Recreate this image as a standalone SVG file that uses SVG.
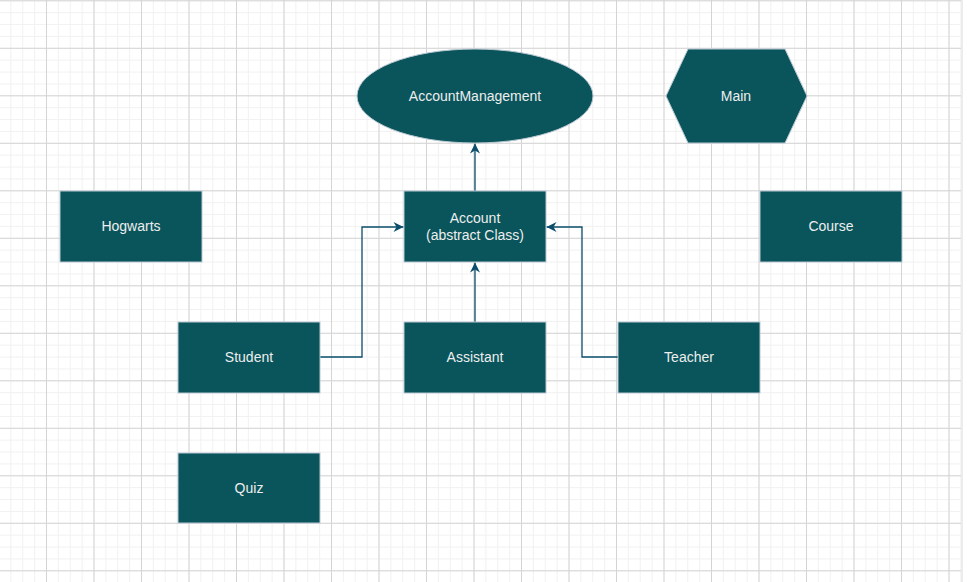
<svg xmlns="http://www.w3.org/2000/svg" width="967" height="582" viewBox="0 0 967 582">
<style>
.node{fill:#09555B;stroke:#BAC8D3;stroke-width:1}
.lbl{fill:#EEEEEE;font-family:"Liberation Sans",Arial,sans-serif;font-size:14px;text-anchor:middle}
.edge{fill:none;stroke:#0B4D6A;stroke-width:1.3}
</style>
<defs>
<pattern id="minor" patternUnits="userSpaceOnUse" x="10.375" y="0.3" width="11.875" height="11.875">
<path d="M0.5,0 V11.875 M0,0.5 H11.875" fill="none" stroke="#f1f1f1" stroke-width="1"/>
</pattern>
<pattern id="major" patternUnits="userSpaceOnUse" x="46" y="47.8" width="47.5" height="47.5">
<path d="M0.5,0 V47.5 M0,0.5 H47.5" fill="none" stroke="#d4d4d4" stroke-width="1"/>
</pattern>
<marker id="arr" viewBox="0 0 10 10" refX="10" refY="5" markerWidth="11" markerHeight="10" markerUnits="userSpaceOnUse" orient="auto">
<path d="M10,5 L0,0 L3,5 L0,10 Z" fill="#0B4D6A"/>
</marker>
</defs>
<rect width="967" height="582" fill="#ffffff"/>
<rect width="961" height="582" fill="url(#minor)"/>
<rect width="961" height="582" fill="url(#major)"/>
<rect x="961" y="0" width="2" height="582" fill="#ececec"/>
<g id="connectors">
<path class="edge" d="M475,191 V143.5" marker-end="url(#arr)"/>
<path class="edge" d="M475,322 V262.5" marker-end="url(#arr)"/>
<path class="edge" d="M320,357 H362 V227 H403.5" marker-end="url(#arr)"/>
<path class="edge" d="M618,357 H582 V227 H546.5" marker-end="url(#arr)"/>
</g>
<g id="accountmanagement">
<ellipse class="node" cx="475" cy="96" rx="118" ry="47"/>
<text class="lbl" x="475" y="101">AccountManagement</text>
</g>
<g id="main">
<polygon class="node" points="688,49 785,49 807,96 785,143 688,143 666,96"/>
<text class="lbl" x="736" y="101">Main</text>
</g>
<g id="hogwarts">
<rect class="node" x="60" y="191" width="142" height="71"/>
<text class="lbl" x="131" y="231">Hogwarts</text>
</g>
<g id="account">
<rect class="node" x="404" y="191" width="142" height="71"/>
<text class="lbl" x="475" y="223">Account</text>
<text class="lbl" x="475" y="240">(abstract Class)</text>
</g>
<g id="course">
<rect class="node" x="760" y="191" width="142" height="71"/>
<text class="lbl" x="831" y="231">Course</text>
</g>
<g id="student">
<rect class="node" x="178" y="322" width="142" height="71"/>
<text class="lbl" x="249" y="362">Student</text>
</g>
<g id="assistant">
<rect class="node" x="404" y="322" width="142" height="71"/>
<text class="lbl" x="475" y="362">Assistant</text>
</g>
<g id="teacher">
<rect class="node" x="618" y="322" width="142" height="71"/>
<text class="lbl" x="689" y="362">Teacher</text>
</g>
<g id="quiz">
<rect class="node" x="178" y="453" width="142" height="70"/>
<text class="lbl" x="249" y="493">Quiz</text>
</g>
</svg>
